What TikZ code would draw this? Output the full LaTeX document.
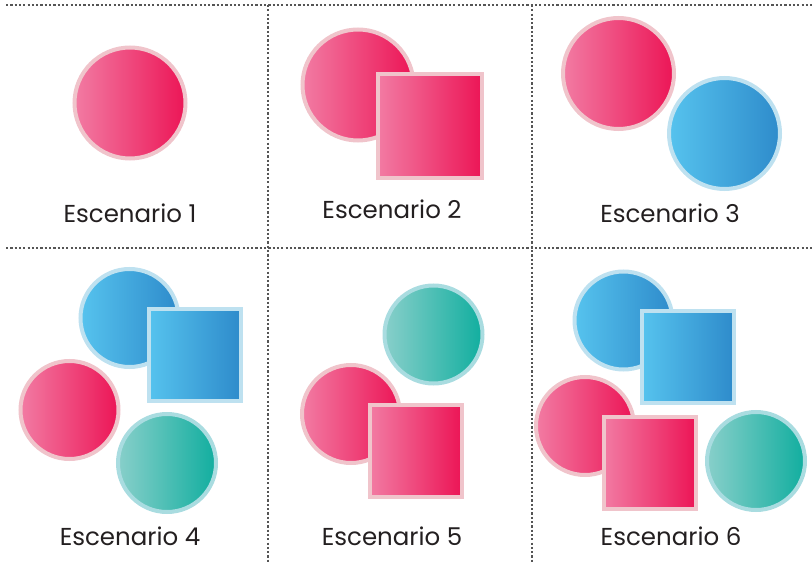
\documentclass[tikz,border=0pt]{standalone}
\usepackage{fontspec}
\setmainfont{Poppins}
\definecolor{pinkL}{HTML}{F27BA3}
\definecolor{pinkR}{HTML}{EC1556}
\definecolor{pinkB}{HTML}{F0C4CB}
\definecolor{blueL}{HTML}{56C3EE}
\definecolor{blueR}{HTML}{2E8BCB}
\definecolor{blueB}{HTML}{BEE1F0}
\definecolor{tealL}{HTML}{88CFCA}
\definecolor{tealR}{HTML}{11AE9F}
\definecolor{tealB}{HTML}{A9DCE0}
\definecolor{gridc}{HTML}{555555}
\definecolor{txt}{HTML}{231F20}
\tikzset{
  shp/.style={inner sep=0pt, outer sep=0pt, line width=4pt},
  pinkfill/.style={shp, draw=pinkB, left color=pinkL, right color=pinkR},
  bluefill/.style={shp, draw=blueB, left color=blueL, right color=blueR},
  tealfill/.style={shp, draw=tealB, left color=tealL, right color=tealR},
  bigc/.style={circle, minimum size=111pt},
  smallc/.style={circle, minimum size=98pt},
  bigsq/.style={rectangle, minimum size=104pt},
  smallsq/.style={rectangle, minimum size=92pt},
  lbl/.style={anchor=base, inner sep=0pt, text=txt, font=\fontsize{24.5}{28}\selectfont},
  gridline/.style={draw=gridc, line width=2.2pt, dash pattern=on 2.2pt off 2.1pt}
}
\begin{document}
\begin{tikzpicture}[x=1pt,y=-1pt]
\useasboundingbox (0,0) rectangle (812,564);
% grid
\coordinate (tl) at (6,5);
\coordinate (tr) at (812,5);
\coordinate (ml) at (6,248);
\coordinate (mr) at (812,248);
\coordinate (v1t) at (268,5);
\coordinate (v1b) at (268,562);
\coordinate (v2t) at (532,5);
\coordinate (v2b) at (532,562);
\draw[gridline] (tl) -- (tr);
\draw[gridline] (ml) -- (mr);
\draw[gridline] (v1t) -- (v1b);
\draw[gridline] (v2t) -- (v2b);
% Escenario 1
\node[pinkfill, bigc] (s1c) at (130,103) {};
\node[lbl] (l1) at (130,223) {Escenario 1};
% Escenario 2
\node[pinkfill, bigc] (s2c) at (358,85) {};
\node[pinkfill, bigsq] (s2s) at (430,126) {};
\node[lbl] (l2) at (392,219) {Escenario 2};
% Escenario 3
\node[pinkfill, bigc] (s3c) at (618.5,73.5) {};
\node[bluefill, bigc] (s3b) at (724.5,133.5) {};
\node[lbl] (l3) at (670,223) {Escenario 3};
% Escenario 4
\node[bluefill, smallc] (s4b) at (129.5,318) {};
\node[bluefill, smallsq] (s4s) at (194.5,355) {};
\node[pinkfill, smallc] (s4p) at (69.5,410) {};
\node[tealfill, smallc] (s4t) at (167,463) {};
\node[lbl] (l4) at (130,545) {Escenario 4};
% Escenario 5
\node[tealfill, smallc] (s5t) at (433.5,334.5) {};
\node[pinkfill, smallc] (s5p) at (351,414) {};
\node[pinkfill, smallsq] (s5s) at (415.5,450.5) {};
\node[lbl] (l5) at (392,545) {Escenario 5};
% Escenario 6
\node[bluefill, smallc] (s6b) at (623.5,320.5) {};
\node[bluefill, smallsq] (s6bs) at (688,357) {};
\node[pinkfill, smallc] (s6p) at (585,426) {};
\node[pinkfill, smallsq] (s6ps) at (649.5,462.5) {};
\node[tealfill, smallc] (s6t) at (756,461) {};
\node[lbl] (l6) at (671,545) {Escenario 6};
\end{tikzpicture}
\end{document}
